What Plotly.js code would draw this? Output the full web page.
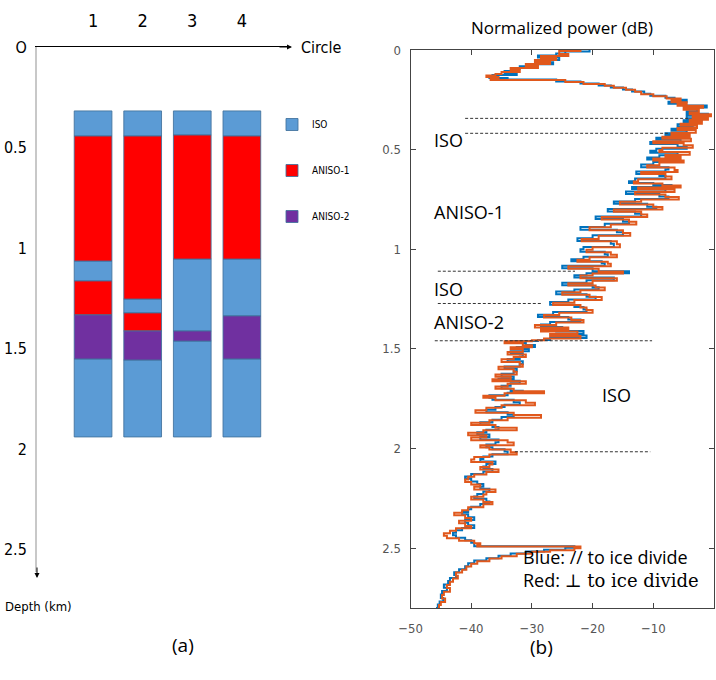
<!DOCTYPE html>
<html>
<head>
<meta charset="utf-8">
<script src="https://cdn.plot.ly/plotly-3.0.1.min.js"></script>
<style>html,body{margin:0;padding:0;background:#fff;}#chart{width:716px;height:680px;}</style>
</head>
<body>
<div id="chart"></div>
<script>
// ---------- Panel (a): layer segments per circle (depth in km) ----------
const circles = [1, 2, 3, 4];
const classNames = ['ISO', 'ANISO-1', 'ANISO-2'];
const segCircle = [1,1,1,1,1,1, 2,2,2,2,2,2, 3,3,3,3,3, 4,4,4,4,4];
const segTop    = [0.318,0.443,1.065,1.164,1.333,1.552, 0.318,0.443,1.254,1.323,1.413,1.557, 0.318,0.438,1.055,1.413,1.463, 0.318,0.443,1.055,1.338,1.552];
const segBottom = [0.443,1.065,1.164,1.333,1.552,1.940, 0.443,1.254,1.323,1.413,1.557,1.940, 0.438,1.055,1.413,1.463,1.940, 0.443,1.055,1.338,1.552,1.940];
const segClass  = ['ISO','ANISO-1','ISO','ANISO-1','ANISO-2','ISO', 'ISO','ANISO-1','ISO','ANISO-1','ANISO-2','ISO', 'ISO','ANISO-1','ISO','ANISO-2','ISO', 'ISO','ANISO-1','ISO','ANISO-2','ISO'];
const depthTicksA = [0, 0.5, 1, 1.5, 2, 2.5];
const depthTickTextA = ['O', '0.5', '1', '1.5', '2', '2.5'];

// ---------- Panel (b): normalized power profiles ----------
const depthRed = [0.000,0.005,0.020,0.030,0.040,0.050,0.060,0.070,0.080,0.090,0.100,0.110,0.120,0.128,0.135,0.142,0.150,0.160,0.170,0.180,0.190,0.200,0.210,0.222,0.232,0.243,0.252,0.262,0.272,0.280,0.290,0.300,0.312,0.322,0.332,0.340,0.350,0.360,0.370,0.380,0.392,0.402,0.415,0.425,0.435,0.445,0.458,0.468,0.478,0.490,0.502,0.512,0.525,0.535,0.545,0.555,0.565,0.578,0.590,0.602,0.612,0.622,0.635,0.648,0.660,0.670,0.680,0.690,0.700,0.712,0.725,0.738,0.750,0.762,0.775,0.788,0.800,0.812,0.825,0.838,0.850,0.862,0.875,0.890,0.905,0.918,0.932,0.948,0.960,0.975,0.990,1.002,1.015,1.028,1.040,1.052,1.062,1.072,1.085,1.098,1.112,1.122,1.132,1.145,1.158,1.170,1.182,1.192,1.205,1.215,1.228,1.240,1.255,1.268,1.280,1.292,1.305,1.318,1.330,1.342,1.355,1.368,1.380,1.392,1.402,1.412,1.425,1.435,1.448,1.456,1.462,1.472,1.482,1.492,1.502,1.515,1.528,1.540,1.552,1.565,1.578,1.590,1.602,1.615,1.628,1.640,1.652,1.662,1.675,1.688,1.700,1.712,1.722,1.735,1.745,1.758,1.770,1.782,1.795,1.808,1.820,1.832,1.845,1.858,1.870,1.882,1.895,1.908,1.920,1.933,1.945,1.958,1.970,1.983,1.995,2.005,2.018,2.030,2.042,2.055,2.068,2.080,2.092,2.105,2.118,2.130,2.142,2.155,2.168,2.180,2.192,2.205,2.218,2.230,2.242,2.255,2.268,2.280,2.295,2.310,2.322,2.335,2.348,2.362,2.375,2.388,2.400,2.412,2.425,2.438,2.450,2.462,2.475,2.485,2.492,2.500,2.510,2.518,2.528,2.540,2.552,2.565,2.578,2.592,2.608,2.622,2.638,2.652,2.668,2.685,2.700,2.718,2.735,2.752,2.770,2.785,2.800];
const powerRed = [-22.0,-25.5,-24.0,-28.5,-26.0,-29.5,-27.0,-31.0,-29.0,-33.5,-32.0,-35.0,-36.0,-37.5,-35.5,-36.8,-24.5,-21.5,-18.0,-16.5,-14.5,-13.0,-12.0,-10.0,-7.8,-5.5,-7.0,-4.5,-6.0,-1.8,-5.0,-2.5,-4.0,-0.5,-3.5,-1.0,-4.0,-2.0,-5.5,-2.8,-6.0,-3.0,-7.0,-4.0,-8.5,-3.8,-10.0,-5.0,-3.5,-8.5,-9.0,-4.0,-8.0,-5.5,-10.0,-5.0,-9.0,-11.0,-6.5,-6.0,-12.0,-8.0,-7.0,-12.5,-13.2,-8.5,-5.5,-12.5,-6.5,-13.0,-8.0,-5.8,-12.0,-15.5,-10.0,-8.5,-16.5,-12.0,-11.0,-18.5,-14.0,-12.8,-17.0,-20.5,-15.0,-13.8,-19.0,-21.8,-16.0,-15.5,-20.0,-21.0,-17.0,-16.0,-20.5,-22.5,-17.5,-17.0,-24.0,-19.0,-15.0,-20.0,-22.0,-16.0,-20.0,-24.0,-19.5,-18.0,-22.0,-25.0,-20.5,-18.5,-23.0,-26.5,-22.0,-21.0,-20.0,-25.5,-28.0,-23.5,-21.5,-26.0,-29.5,-24.0,-28.5,-22.5,-27.0,-22.0,-28.0,-30.0,-34.5,-31.5,-30.0,-33.5,-31.5,-34.0,-31.0,-33.0,-35.0,-32.0,-31.5,-35.5,-33.0,-32.5,-36.0,-33.5,-36.5,-31.0,-34.0,-36.0,-33.0,-28.0,-34.5,-38.0,-36.0,-31.0,-29.5,-35.0,-37.5,-39.3,-33.0,-28.5,-34.0,-37.0,-40.0,-36.0,-32.5,-38.0,-40.5,-37.5,-40.0,-34.0,-33.0,-38.5,-37.0,-33.5,-32.5,-37.0,-39.5,-40.0,-36.5,-37.0,-38.5,-35.5,-37.5,-39.5,-40.5,-41.0,-40.0,-38.5,-39.5,-36.0,-37.5,-38.0,-40.0,-38.0,-36.5,-38.0,-40.5,-41.5,-42.8,-41.0,-40.0,-42.0,-41.0,-40.0,-42.5,-43.5,-44.5,-44.0,-42.0,-39.5,-38.5,-39.0,-22.0,-23.0,-27.0,-30.0,-32.5,-35.0,-37.0,-39.0,-40.0,-40.8,-41.5,-42.5,-42.2,-43.0,-43.5,-44.0,-43.5,-44.5,-44.8,-44.3,-45.0,-45.3,-45.5];
const depthBlue = [0.000,0.008,0.018,0.028,0.038,0.050,0.062,0.072,0.082,0.094,0.105,0.115,0.125,0.134,0.140,0.148,0.158,0.168,0.178,0.188,0.198,0.208,0.220,0.230,0.240,0.250,0.260,0.270,0.278,0.288,0.298,0.310,0.320,0.330,0.342,0.352,0.362,0.372,0.384,0.395,0.405,0.418,0.428,0.440,0.450,0.462,0.472,0.485,0.495,0.505,0.515,0.528,0.540,0.550,0.562,0.575,0.588,0.600,0.610,0.622,0.632,0.645,0.658,0.668,0.678,0.688,0.698,0.710,0.722,0.735,0.748,0.760,0.772,0.786,0.798,0.810,0.822,0.836,0.848,0.860,0.872,0.888,0.902,0.915,0.930,0.945,0.958,0.972,0.988,1.000,1.012,1.025,1.038,1.050,1.060,1.070,1.082,1.095,1.110,1.120,1.130,1.142,1.155,1.168,1.180,1.190,1.202,1.212,1.225,1.238,1.252,1.265,1.278,1.290,1.302,1.315,1.328,1.340,1.352,1.365,1.378,1.390,1.400,1.410,1.422,1.432,1.445,1.455,1.460,1.470,1.480,1.490,1.500,1.512,1.525,1.538,1.550,1.562,1.575,1.588,1.600,1.612,1.625,1.638,1.650,1.660,1.672,1.685,1.698,1.710,1.720,1.732,1.745,1.755,1.768,1.780,1.792,1.805,1.818,1.830,1.842,1.855,1.868,1.880,1.892,1.905,1.918,1.930,1.942,1.955,1.968,1.980,1.993,2.003,2.015,2.028,2.040,2.052,2.065,2.078,2.090,2.102,2.115,2.128,2.140,2.152,2.165,2.178,2.190,2.202,2.215,2.228,2.240,2.252,2.265,2.278,2.292,2.305,2.318,2.330,2.345,2.358,2.372,2.385,2.398,2.410,2.422,2.435,2.448,2.460,2.472,2.483,2.490,2.498,2.508,2.516,2.526,2.538,2.550,2.562,2.575,2.590,2.605,2.620,2.635,2.650,2.665,2.682,2.698,2.715,2.732,2.750,2.768,2.782,2.800];
const powerBlue = [-20.5,-24.5,-26.0,-29.0,-25.5,-29.0,-26.5,-30.5,-32.0,-33.0,-34.5,-32.5,-36.5,-37.0,-34.0,-26.0,-22.0,-19.0,-17.0,-15.0,-13.5,-11.5,-10.5,-8.0,-6.5,-4.5,-7.5,-5.0,-1.2,-4.5,-2.8,-4.5,-1.0,-4.5,-2.0,-5.0,-3.0,-6.0,-3.5,-7.0,-4.5,-8.0,-5.0,-9.5,-5.5,-10.5,-6.0,-4.5,-9.5,-10.5,-6.0,-9.0,-11.0,-6.5,-10.0,-12.0,-7.5,-8.0,-12.8,-9.0,-8.0,-13.0,-14.0,-10.0,-7.0,-13.5,-8.0,-14.5,-9.0,-7.5,-13.0,-16.5,-11.0,-9.5,-17.5,-13.0,-12.0,-19.5,-15.0,-14.0,-18.0,-22.0,-16.0,-15.0,-20.0,-22.5,-17.0,-16.5,-21.5,-22.0,-18.0,-17.5,-21.5,-23.5,-18.5,-18.0,-25.0,-20.0,-14.0,-21.0,-23.0,-16.5,-21.0,-25.0,-20.0,-19.0,-23.0,-26.0,-21.0,-19.5,-24.0,-27.0,-23.0,-21.5,-21.0,-26.5,-29.0,-24.0,-22.0,-27.0,-28.5,-25.0,-27.5,-21.5,-26.0,-21.0,-27.0,-29.0,-33.5,-31.0,-29.5,-32.5,-30.5,-33.5,-31.5,-32.0,-34.0,-31.5,-32.0,-34.5,-32.5,-33.0,-35.0,-33.0,-35.5,-32.0,-33.5,-35.0,-33.5,-31.5,-34.0,-37.0,-36.5,-33.0,-32.0,-34.5,-36.0,-37.5,-34.0,-33.0,-35.0,-36.5,-38.5,-36.5,-35.5,-37.5,-39.0,-37.0,-38.5,-35.5,-36.0,-37.5,-36.5,-34.5,-34.0,-36.5,-38.0,-38.5,-36.0,-37.5,-38.0,-36.5,-38.0,-40.0,-41.0,-40.0,-39.0,-38.0,-38.5,-37.0,-38.0,-39.0,-39.5,-37.5,-37.0,-38.5,-40.0,-40.5,-41.5,-40.5,-39.5,-41.0,-40.5,-39.5,-41.5,-42.5,-43.0,-42.5,-41.0,-40.0,-39.5,-39.5,-23.0,-24.5,-28.0,-31.0,-33.5,-35.5,-37.5,-39.5,-40.5,-41.0,-42.0,-42.8,-42.5,-43.5,-43.8,-44.5,-44.0,-44.8,-45.0,-44.6,-45.2,-45.5,-45.8];
const powerTicksB = [-50, -40, -30, -20, -10, 0];
const depthTicksB = [0, 0.5, 1, 1.5, 2, 2.5];
// layer boundaries marked with dashed lines: [depth, power start, power end]
const boundDepth = [0.343, 0.418, 1.110, 1.272, 1.459, 2.016];
const boundFrom  = [-41.0, -41.0, -45.5, -45.5, -46.0, -32.8];
const boundTo    = [-4.3, -7.6, -22.9, -28.2, -10.2, -10.5];

// ---------- build ----------
const W = 716, H = 680;
const px = v => v / W, py = v => 1 - v / H;
const classColor = {'ISO': '#5b9bd5', 'ANISO-1': '#ff0000', 'ANISO-2': '#7030a0'};
const narrow = 'DejaVu Sans Condensed, Liberation Sans Narrow, Arial Narrow, Liberation Sans, sans-serif';
const sans = 'Open Sans, Noto Sans, sans-serif';

const traces = [];
classNames.forEach((cls, k) => {
  const xs = [], bs = [], hs = [];
  segClass.forEach((c, i) => {
    if (c === cls) { xs.push(segCircle[i]); bs.push(segTop[i]); hs.push(segBottom[i] - segTop[i]); }
  });
  traces.push({
    type: 'bar', name: cls, x: xs, y: hs, base: bs, width: 0.76,
    xaxis: 'x', yaxis: 'y', legendgroup: 'g' + k,
    marker: {color: classColor[cls], line: {color: 'rgba(65,113,156,0.85)', width: 1}}
  });
});
traces.push({
  type: 'scatter', mode: 'lines', x: powerBlue, y: depthBlue, xaxis: 'x2', yaxis: 'y2',
  line: {color: '#0072bd', width: 2, shape: 'vh'}, showlegend: false, name: 'Blue'
});
traces.push({
  type: 'scatter', mode: 'lines', x: powerRed, y: depthRed, xaxis: 'x2', yaxis: 'y2',
  line: {color: '#e0581c', width: 2, shape: 'vh'}, showlegend: false, name: 'Red'
});

const shapes = boundDepth.map((d, i) => ({
  type: 'line', xref: 'x2', yref: 'y2', x0: boundFrom[i], x1: boundTo[i], y0: d, y1: d,
  line: {color: '#333333', width: 1, dash: '3px,2px'}
}));

const annotations = [
  {text: 'Circle', x: px(299), y: py(48), xref: 'paper', yref: 'paper', xanchor: 'left', yanchor: 'middle', showarrow: false, font: {family: narrow, size: 16, color: '#000'}},
  {text: 'Depth (km)', x: px(38), y: py(606), xref: 'paper', yref: 'paper', xanchor: 'center', yanchor: 'middle', showarrow: false, font: {family: narrow, size: 13, color: '#000'}},
  {text: '', x: px(292), y: py(47), xref: 'paper', yref: 'paper', showarrow: true, ax: -14, ay: 0, arrowhead: 2, arrowsize: 1, arrowwidth: 1, arrowcolor: '#000'},
  {text: '', x: px(37), y: py(578), xref: 'paper', yref: 'paper', showarrow: true, ax: 0, ay: -12, arrowhead: 2, arrowsize: 1, arrowwidth: 1, arrowcolor: '#000'},
  {text: '(a)', x: px(170), y: py(660), xref: 'paper', yref: 'paper', showarrow: false, font: {family: sans, size: 19, color: '#000'}},
  {text: '(b)', x: px(555), y: py(662), xref: 'paper', yref: 'paper', showarrow: false, font: {family: sans, size: 19, color: '#000'}},
  {text: 'ISO', x: px(432), y: py(126), xref: 'paper', yref: 'paper', xanchor: 'left', showarrow: false, font: {family: sans, size: 18, color: '#000'}},
  {text: 'ANISO-1', x: px(432), y: py(198), xref: 'paper', yref: 'paper', xanchor: 'left', showarrow: false, font: {family: sans, size: 18, color: '#000'}},
  {text: 'ISO', x: px(432), y: py(289), xref: 'paper', yref: 'paper', xanchor: 'left', showarrow: false, font: {family: sans, size: 18, color: '#000'}},
  {text: 'ANISO-2', x: px(432), y: py(322), xref: 'paper', yref: 'paper', xanchor: 'left', showarrow: false, font: {family: sans, size: 18, color: '#000'}},
  {text: 'ISO', x: px(600), y: py(395), xref: 'paper', yref: 'paper', xanchor: 'left', showarrow: false, font: {family: sans, size: 18, color: '#000'}},
  {text: 'Blue: // to ice divide', x: px(521), y: py(571), xref: 'paper', yref: 'paper', xanchor: 'left', showarrow: false, font: {family: sans, size: 18, color: '#000'}},
  {text: 'Red: <span style="font-family:DejaVu Serif">⊥ to ice divide</span>', x: px(521), y: py(594), xref: 'paper', yref: 'paper', xanchor: 'left', showarrow: false, font: {family: sans, size: 18, color: '#000'}}
];

const layout = {
  width: W, height: H, margin: {l: 0, r: 0, t: 0, b: 0},
  paper_bgcolor: '#fff', plot_bgcolor: 'rgba(0,0,0,0)',
  barmode: 'overlay', hovermode: false,
  title: {text: 'Normalized power (dB)', x: px(562), y: py(28), xref: 'paper', yref: 'paper', xanchor: 'center', yanchor: 'middle', font: {family: sans, size: 17, color: '#000'}},
  showlegend: true,
  legend: {x: px(272), y: py(110), xanchor: 'left', yanchor: 'top', traceorder: 'grouped', tracegroupgap: 27, bgcolor: 'rgba(0,0,0,0)', font: {family: narrow, size: 10, color: '#000'}, itemclick: false},
  xaxis: {
    domain: [px(37), px(290)], range: [-0.13, 4.97], anchor: 'y', side: 'top',
    tickvals: circles, ticktext: circles.map(String), ticks: '', ticklabelstandoff: 12,
    showline: true, linecolor: '#000', linewidth: 1, showgrid: false, zeroline: false,
    tickfont: {family: narrow, size: 18, color: '#000'}
  },
  yaxis: {
    domain: [py(572), py(47)], range: [(572 - 47) / 201, 0], anchor: 'x',
    tickvals: depthTicksA, ticktext: depthTickTextA, ticks: '', ticklabelstandoff: 5,
    showline: true, linecolor: '#c8c8c8', linewidth: 2, showgrid: false, zeroline: false,
    tickfont: {family: narrow, size: 16, color: '#000'}
  },
  xaxis2: {
    domain: [px(410.5), px(714)], range: [-50, 0], anchor: 'y2',
    tickvals: powerTicksB, ticks: 'inside', ticklen: 5, tickcolor: '#444', mirror: 'ticks',
    showline: true, linecolor: '#444', linewidth: 1, showgrid: false, zeroline: false,
    ticklabelstandoff: 8,
    tickfont: {family: narrow, size: 13, color: '#555'}
  },
  yaxis2: {
    domain: [py(608), py(50)], range: [2.8, 0], anchor: 'x2',
    tickvals: depthTicksB, ticktext: depthTicksB.map(String), ticks: 'inside', ticklen: 5, tickcolor: '#444', mirror: 'ticks',
    showline: true, linecolor: '#444', linewidth: 1, showgrid: false, zeroline: false,
    ticklabelstandoff: 6,
    tickfont: {family: narrow, size: 13, color: '#555'}
  },
  shapes: shapes,
  annotations: annotations
};

Plotly.newPlot('chart', traces, layout, {staticPlot: true, displayModeBar: false});
</script>
</body>
</html>
